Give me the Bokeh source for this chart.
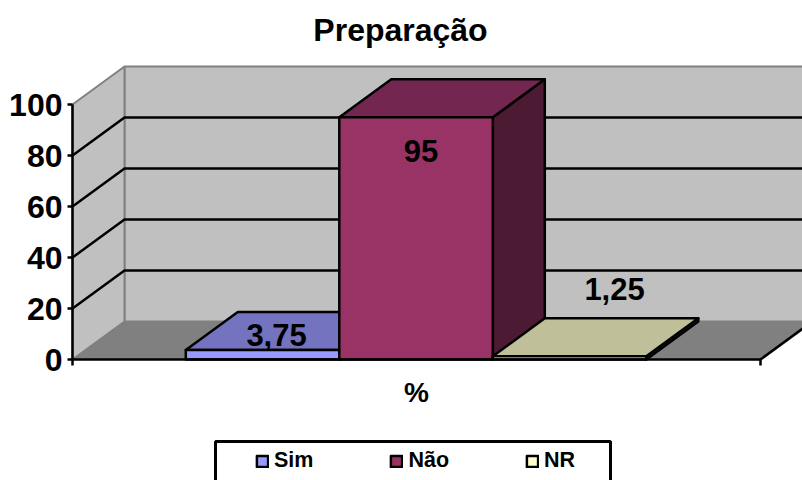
from bokeh.plotting import figure
from bokeh.embed import file_html
from bokeh.resources import INLINE
from bokeh.models import Legend, LegendItem, FixedTicker, ColumnDataSource
from bokeh.core.properties import value

# ---- data ----
title_text = "Preparação"
categories = ["Sim", "Não", "NR"]
values = [3.75, 95, 1.25]
value_labels = ["3,75", "95", "1,25"]
x_label = "%"
y_ticks = [0, 20, 40, 60, 80, 100]

front_colors = ["#9999FF", "#993366", "#FFFFCC"]
top_colors = ["#7373BF", "#732650", "#BFBF99"]
side_colors = ["#4D4D80", "#4D1A33", "#808066"]

FONT = "Liberation Sans"
SPAN_PX = 688.0            # width of the category axis in pixels
PX_V = 2.55                # pixels per value unit
DX = 52 / SPAN_PX          # oblique depth, x units
DY = 38 / PX_V             # oblique depth, value units
BAR = 153.5 / SPAN_PX
X0 = 113.3 / SPAN_PX
XMIN, XMAX = -72 / SPAN_PX, 730 / SPAN_PX
YMIN, YMAX = -121 / PX_V, 359 / PX_V
LW = 2.5

p = figure(width=802, height=480, output_backend="svg", toolbar_location=None,
           x_range=(XMIN, XMAX), y_range=(YMIN, YMAX),
           min_border_left=0, min_border_right=0, min_border_top=0, min_border_bottom=0,
           outline_line_color=None, background_fill_color="white", border_fill_color="white")
p.grid.visible = False

# walls and floor
WALL = "#C0C0C0"; FLOOR = "#808080"; EDGE = "#808080"
p.patch([DX, XMAX + DX, XMAX + DX, DX], [DY, DY, DY + 100, DY + 100], fill_color=WALL, line_color=EDGE, line_width=2)
p.patch([0, DX, DX, 0], [0, DY, DY + 100, 100], fill_color=WALL, line_color=EDGE, line_width=2)
p.patch([0, 1, 1 + DX, DX], [0, 0, DY, DY], fill_color=FLOOR, line_color=EDGE, line_width=1)
p.line([1, 1 + DX], [0, DY], line_color="black", line_width=LW)

# gridlines on both walls
inner = [t for t in y_ticks if 0 < t < 100]
p.multi_line([[0, DX, XMAX + DX] for t in inner], [[t, t + DY, t + DY] for t in inner],
             line_color="black", line_width=LW)

# bars, back to front
renderers = []
for i, v in enumerate(values):
    x1 = X0 + i * BAR
    x2 = x1 + BAR
    kw = dict(line_color="black", line_width=LW, line_join="round")
    p.patch([x2, x2 + DX, x2 + DX, x2], [0, DY, v + DY, v], fill_color=side_colors[i], **kw)
    p.patch([x1, x2, x2 + DX, x1 + DX], [v, v, v + DY, v + DY], fill_color=top_colors[i], **kw)
    r = p.quad(left=[x1], right=[x2], bottom=[0], top=[v], fill_color=front_colors[i], **kw)
    renderers.append(r)

# value labels
label_dx = [14 / SPAN_PX, 5 / SPAN_PX, 45 / SPAN_PX]
label_dy = [5.8, -13.4, 26.3]
src = ColumnDataSource(dict(
    x=[X0 + (i + 0.5) * BAR + label_dx[i] for i in range(3)],
    y=[values[i] + label_dy[i] for i in range(3)],
    t=value_labels))
p.text("x", "y", text="t", source=src, text_align="center", text_baseline="middle",
       text_font=value(FONT), text_font_style="bold", text_font_size="31px", text_color="black")

# y axis
ya = p.yaxis[0]
ya.fixed_location = 0
ya.ticker = FixedTicker(ticks=y_ticks)
ya.bounds = (0, 100)
ya.axis_line_color = "black"; ya.axis_line_width = LW
ya.major_tick_line_color = "black"; ya.major_tick_line_width = LW
ya.major_tick_in = 0; ya.major_tick_out = 5
ya.minor_tick_line_color = None
ya.major_label_standoff = 5
ya.major_label_text_font = FONT
ya.major_label_text_font_style = "bold"
ya.major_label_text_font_size = "32px"
ya.major_label_text_color = "black"

# x axis: category label at the centre, end ticks as minor ticks
xa = p.xaxis[0]
xa.fixed_location = 0
xa.ticker = FixedTicker(ticks=[0.5], minor_ticks=[0, 1])
xa.bounds = (0, 1)
xa.major_label_overrides = {0.5: x_label}
xa.axis_line_color = "black"; xa.axis_line_width = LW
xa.major_tick_line_color = None
xa.major_tick_out = 0; xa.major_tick_in = 0
xa.minor_tick_line_color = "black"; xa.minor_tick_line_width = LW
xa.minor_tick_in = 0; xa.minor_tick_out = 6
xa.major_label_standoff = 11
xa.major_label_text_font = FONT
xa.major_label_text_font_style = "bold"
xa.major_label_text_font_size = "28px"
xa.major_label_text_color = "black"

# title, inside the full-page frame
p.text([328 / SPAN_PX], [330 / PX_V], text=[title_text], text_align="center", text_baseline="middle",
       text_font=value(FONT), text_font_style="bold", text_font_size="32px", text_color="black")

# legend box (its bottom edge runs past the page, as in the reference)
p.quad(left=[143 / SPAN_PX], right=[538 / SPAN_PX], top=[-82 / PX_V], bottom=[-130 / PX_V],
       fill_color="white", line_color="black", line_width=3)

legend = Legend(items=[LegendItem(label=c, renderers=[r]) for c, r in zip(categories, renderers)],
                orientation="horizontal", location=(255, 7), margin=0, padding=0,
                border_line_color=None, background_fill_alpha=0,
                label_text_font=FONT, label_text_font_style="bold",
                label_text_font_size="21.5px", label_text_color="black", glyph_width=14, glyph_height=14,
                label_standoff=5, spacing=76)
p.add_layout(legend, "center")

open("out.html", "w").write(file_html(p, INLINE))
